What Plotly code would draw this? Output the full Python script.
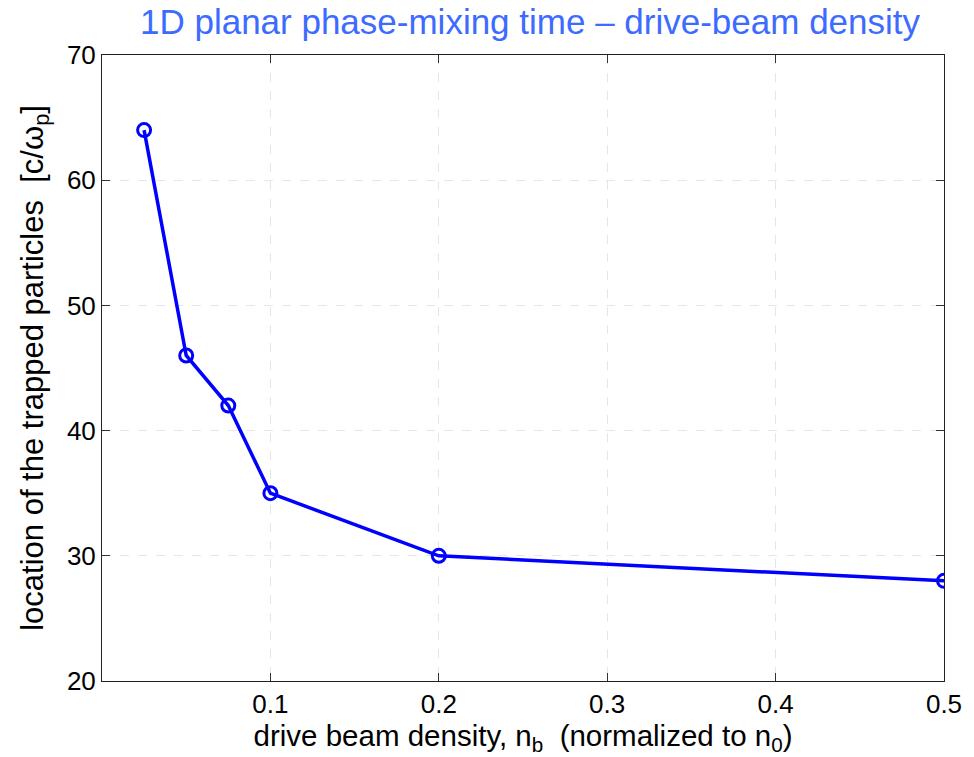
import plotly.graph_objects as go

density = [0.025, 0.05, 0.075, 0.1, 0.2, 0.5]
location = [64, 46, 42, 35, 30, 28]
x_ticks = [0.1, 0.2, 0.3, 0.4, 0.5]
y_ticks = [20, 30, 40, 50, 60, 70]

FONT = "Liberation Sans, Arial, sans-serif"

fig = go.Figure()
fig.add_trace(go.Scatter(
    x=density, y=location, mode="lines+markers",
    line=dict(color="#0000ff", width=3.5),
    marker=dict(symbol="circle-open", size=13, color="#0000ff", line=dict(width=3, color="#0000ff")),
    showlegend=False,
))

axis_common = dict(
    showline=True, linecolor="#222222", linewidth=1, mirror="ticks",
    ticks="inside", ticklen=8, tickcolor="#333333",
    showgrid=True, gridcolor="#e6e6e6", griddash="dash", gridwidth=1,
    zeroline=False,
    tickfont=dict(family=FONT, size=26, color="black"),
)

fig.update_layout(
    width=974, height=757,
    margin=dict(l=102, r=30, t=55, b=76),
    paper_bgcolor="white", plot_bgcolor="white",
    title=dict(text="1D planar phase-mixing time – drive-beam density",
               x=530 / 974, xanchor="center", y=1 - 22 / 757, yanchor="middle",
               font=dict(family=FONT, size=35, color="#3d6bff")),
    xaxis=dict(range=[0, 0.5], tickvals=x_ticks, ticktext=[str(v) for v in x_ticks],
               title=dict(text="drive beam density, n<sub>b</sub>  (normalized to n<sub>0</sub>)",
                          font=dict(family=FONT, size=29.5, color="black"),
                          standoff=4),
               **axis_common),
    yaxis=dict(range=[20, 70], tickvals=y_ticks,
               title=dict(text="location of the trapped particles  [c/ω<sub>p</sub>]",
                          font=dict(family=FONT, size=31, color="black"),
                          standoff=14),
               **axis_common),
)

fig.write_html("out.html")
